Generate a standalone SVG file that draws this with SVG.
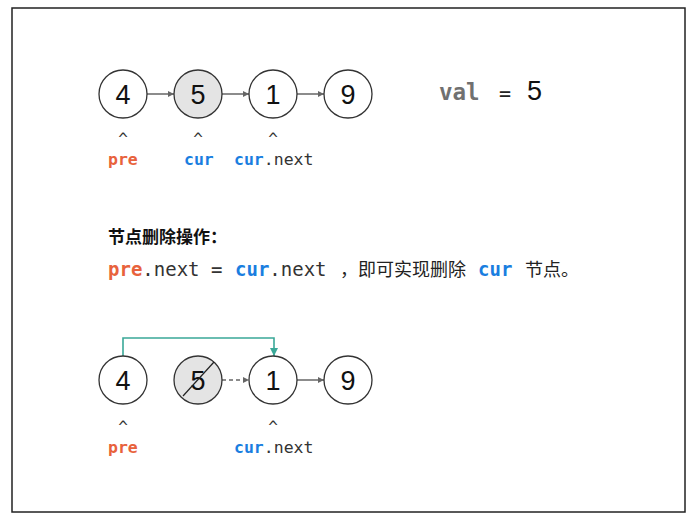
<svg xmlns="http://www.w3.org/2000/svg" width="691" height="526" viewBox="0 0 691 526">
<style>
.node circle{fill:#fff;stroke:#333;stroke-width:1.3}
.node.del circle{fill:#e4e4e4}
.node text{font-family:"Liberation Sans",Arial,sans-serif;font-size:27px;fill:#111;text-anchor:middle}
.mono{font-family:"DejaVu Sans Mono","Liberation Mono",monospace}
.lbl{font-size:16.5px;fill:#333}
.caret{font-size:16px;fill:#333;text-anchor:middle}
.pre{fill:#e8623c;font-weight:bold}
.cur{fill:#1a7ee0;font-weight:bold}
.cjk{font-family:"Noto Sans CJK SC","Noto Sans",sans-serif}
.arrow{stroke:#666;stroke-width:1.5;fill:none;marker-end:url(#ah)}
</style>
<defs>
<marker id="ah" viewBox="0 0 10 10" refX="10" refY="5" markerWidth="6" markerHeight="6" markerUnits="userSpaceOnUse" orient="auto"><path d="M0,0L10,5L0,10z" fill="#666"/></marker>
<marker id="ahg" viewBox="0 0 10 10" refX="10" refY="5" markerWidth="8" markerHeight="8" markerUnits="userSpaceOnUse" orient="auto"><path d="M0,0L10,5L0,10z" fill="#3aa898"/></marker>
</defs>
<rect x="12" y="8" width="673" height="504" fill="#fff" stroke="#222" stroke-width="1.5"/>
<g id="connectors">
<line class="arrow" x1="147" y1="94" x2="174" y2="94"/>
<line class="arrow" x1="222" y1="94" x2="249" y2="94"/>
<line class="arrow" x1="297" y1="94" x2="324" y2="94"/>
<line class="arrow" x1="222" y1="380" x2="249" y2="380" stroke-dasharray="4,3"/>
<line class="arrow" x1="297" y1="380" x2="324" y2="380"/>
<polyline points="123,356 123,338 274,338 274,356" fill="none" stroke="#3aa898" stroke-width="1.6" marker-end="url(#ahg)"/>
</g>
<g id="n4a" class="node"><circle cx="123" cy="94" r="24"/><text x="123" y="103.5">4</text></g>
<g id="n5a" class="node del"><circle cx="198" cy="94" r="24"/><text x="198" y="103.5">5</text></g>
<g id="n1a" class="node"><circle cx="273" cy="94" r="24"/><text x="273" y="103.5">1</text></g>
<g id="n9a" class="node"><circle cx="348" cy="94" r="24"/><text x="348" y="103.5">9</text></g>
<g id="n4b" class="node"><circle cx="123" cy="380" r="24"/><text x="123" y="389.5">4</text></g>
<g id="n5b" class="node del"><circle cx="198" cy="380" r="24"/><text x="198" y="389.5">5</text><line x1="183" y1="396" x2="214" y2="362" stroke="#222" stroke-width="1.2"/></g>
<g id="n1b" class="node"><circle cx="273" cy="380" r="24"/><text x="273" y="389.5">1</text></g>
<g id="n9b" class="node"><circle cx="348" cy="380" r="24"/><text x="348" y="389.5">9</text></g>
<g id="labels-top">
<text class="mono caret" x="123" y="144">^</text>
<text class="mono caret" x="198" y="144">^</text>
<text class="mono caret" x="273" y="144">^</text>
<text class="mono lbl" x="108" y="165"><tspan class="pre">pre</tspan></text>
<text class="mono lbl" x="184" y="165"><tspan class="cur">cur</tspan></text>
<text class="mono lbl" x="234" y="165"><tspan class="cur">cur</tspan>.next</text>
</g>
<g id="val">
<text class="mono" x="439" y="100" font-size="22.5" font-weight="bold" fill="#707070">val</text>
<text class="mono" x="499" y="100" font-size="20" fill="#222">=</text>
<text x="527" y="100" font-family="Liberation Sans,Arial,sans-serif" font-size="27" fill="#111">5</text>
</g>
<g id="desc">
<text class="cjk" x="108" y="243" font-size="17" font-weight="bold" fill="#111">节点删除操作：</text>
<text class="mono" x="108" y="276" font-size="19" fill="#333"><tspan class="pre">pre</tspan>.next <tspan x="211">=</tspan> <tspan x="235" class="cur">cur</tspan>.next</text>
<text class="cjk" x="340" y="276" font-size="18" fill="#222">，即可实现删除</text>
<text class="mono" x="478" y="276" font-size="19"><tspan class="cur">cur</tspan></text>
<text class="cjk" x="525" y="276" font-size="18" fill="#222">节点。</text>
</g>
<g id="labels-bottom">
<text class="mono caret" x="123" y="432">^</text>
<text class="mono caret" x="273" y="432">^</text>
<text class="mono lbl" x="108" y="453"><tspan class="pre">pre</tspan></text>
<text class="mono lbl" x="234" y="453"><tspan class="cur">cur</tspan>.next</text>
</g>
</svg>
